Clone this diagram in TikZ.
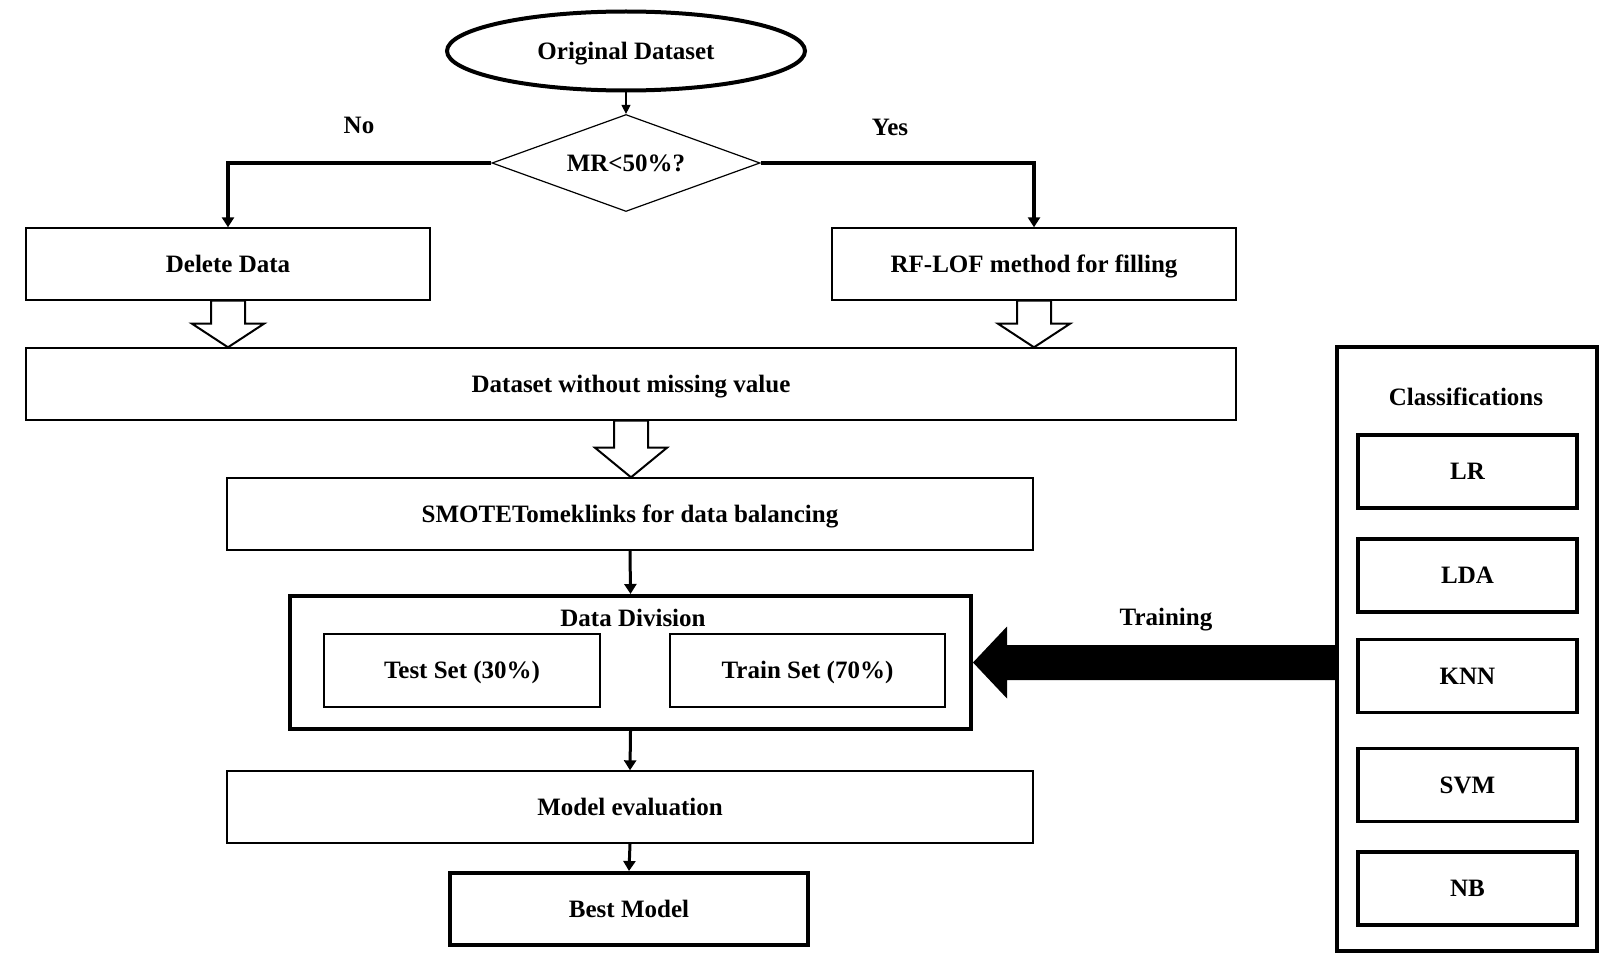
\documentclass[tikz,border=0pt]{standalone}
\usepackage{fontspec}
\setmainfont{Liberation Serif}
\usetikzlibrary{shapes.geometric,arrows.meta,calc}
\newcommand\blockarrow[3]{%
  \draw[hollow] ($(#1)+(-17,0)$) -- ($(#1)+(-17,#3)$) -- ($(#1)+(-36,#3)$) -- (#2)
    -- ($(#1)+(36,#3)$) -- ($(#1)+(17,#3)$) -- ($(#1)+(17,0)$) -- cycle;}
\begin{document}
\begin{tikzpicture}[x=0.5pt,y=-0.5pt,
  every node/.style={font=\fontsize{12.5}{15}\selectfont\bfseries,text height=0.84em,text depth=0pt},
  thinbox/.style={draw,line width=0.7pt,inner sep=0pt},
  thickbox/.style={draw,line width=2pt,inner sep=0pt},
  clsbox/.style={draw,line width=1.8pt,inner sep=0pt,minimum width=109.5pt,minimum height=36.5pt},
  conn/.style={line width=2pt,-{Triangle[length=5pt,width=6pt]}},
  down/.style={line width=1.5pt,-{Triangle[length=5pt,width=6pt]}},
  hollow/.style={draw,fill=white,line width=1pt,line join=miter},
]
\useasboundingbox (0,0) rectangle (1620,963);

\node[ellipse,draw,line width=2pt,minimum width=179pt,minimum height=39.5pt,inner sep=0pt] (orig) at (626,51) {Original Dataset};
\node[diamond,aspect=2.76,draw,line width=0.6pt,minimum width=134pt,minimum height=48.5pt,inner sep=0pt] (mr) at (626,163) {MR<50\%?};
\draw[line width=0.6pt,-{Triangle[length=4.5pt,width=4.5pt]}] (orig.south) -- (mr.north);

\node (no) at (359,125) {No};
\node (yes) at (890,127) {Yes};

\node[thinbox,minimum width=202pt,minimum height=36pt] (del) at (228,264) {Delete Data};
\node[thinbox,minimum width=202pt,minimum height=36pt] (rf) at (1034,264) {RF-LOF method for filling};
\draw[conn] (mr.west) -| (del.north);
\draw[conn] (mr.east) -| (rf.north);

\node[thinbox,minimum width=605pt,minimum height=36pt] (ds) at (631,384) {Dataset without missing value};
\node[thinbox,minimum width=403pt,minimum height=36pt] (smote) at (630,514) {SMOTETomeklinks for data balancing};

\path (del.south) coordinate (h1s) (del.south |- ds.north) coordinate (h1t);
\path (rf.south) coordinate (h2s) (rf.south |- ds.north) coordinate (h2t);
\path (ds.south) coordinate (h3s) (ds.south |- smote.north) coordinate (h3t);
\blockarrow{h1s}{h1t}{23}
\blockarrow{h2s}{h2t}{23}
\blockarrow{h3s}{h3t}{27}

\node[thickbox,minimum width=340.5pt,minimum height=66.5pt] (div) at (630.5,662.5) {};
\node (divlbl) at (633,618) {Data Division};
\node[thinbox,minimum width=138pt,minimum height=36.5pt] (test) at (462,670.5) {Test Set (30\%)};
\node[thinbox,minimum width=137.5pt,minimum height=36.5pt] (train) at (807.5,670.5) {Train Set (70\%)};
\draw[down] (smote.south) -- (div.north);

\node[thinbox,minimum width=403pt,minimum height=36pt] (eval) at (630,807) {Model evaluation};
\node[thickbox,minimum width=179pt,minimum height=36pt] (best) at (629,909) {Best Model};
\draw[down] (div.south) -- (eval.north);
\draw[down] (eval.south) -- (best.north);

\node[thickbox,minimum width=130pt,minimum height=302pt] (cls) at (1467,649) {};
\node (clslbl) at (1466,397) {Classifications};
\node[clsbox] (lr) at (1467.5,471.5) {LR};
\node[clsbox] (lda) at (1467.5,575.5) {LDA};
\node[clsbox] (knn) at (1467.5,676) {KNN};
\node[clsbox] (svm) at (1467.5,785) {SVM};
\node[clsbox] (nb) at (1467.5,888.5) {NB};

\path (div.east) coordinate (tipT) (div.east -| cls.west) coordinate (tailT);
\fill ($(tailT)+(0,-17.5)$) -- ($(tipT)+(34,-17.5)$) -- ($(tipT)+(34,-36)$) -- (tipT)
  -- ($(tipT)+(34,36)$) -- ($(tipT)+(34,17.5)$) -- ($(tailT)+(0,17.5)$) -- cycle;
\node (trlbl) at (1166,617) {Training};
\end{tikzpicture}
\end{document}
